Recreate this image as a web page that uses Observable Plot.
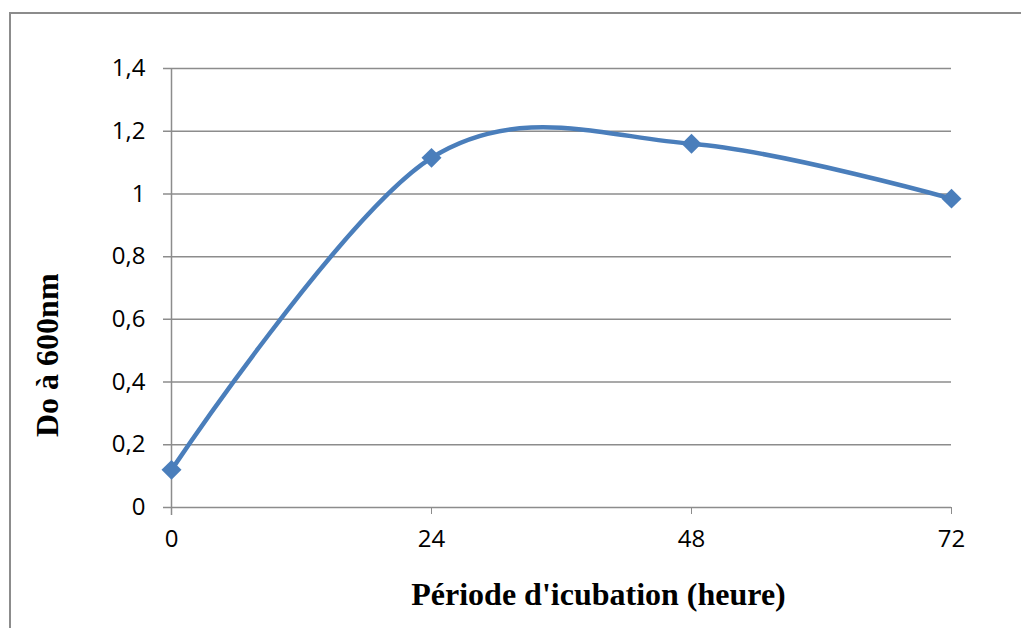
<!DOCTYPE html>
<html>
<head>
<meta charset="utf-8">
<script src="https://cdn.jsdelivr.net/npm/d3@7"></script>
<script src="https://cdn.jsdelivr.net/npm/@observablehq/plot@0.6"></script>
<style>
  html, body { margin: 0; padding: 0; background: #fff; overflow: hidden; }
  #chart { position: relative; width: 1021px; height: 628px; }
  #border { position: absolute; left: 9px; top: 12px; width: 1040px; height: 660px;
            border: 2px solid #8c8c8c; pointer-events: none; }
  #chart svg g[aria-label$="tick label"] { fill: #000; }
</style>
</head>
<body>
<div id="chart"><div id="border"></div></div>
<script>
// Incubation time (hours) and optical density at 600 nm
const hours = [0, 24, 48, 72];
const od600 = [0.12, 1.115, 1.16, 0.985];
const yTicks = [0, 0.2, 0.4, 0.6, 0.8, 1, 1.2, 1.4];
const xTicks = [0, 24, 48, 72];
const yTitle = "Do à 600nm";
const xTitle = "Période d'icubation (heure)";

const data = hours.map((h, i) => ({h, od: od600[i]}));
const grid = "#8c8c8c";
const blue = "#4a7ebb";
const comma = d => String(+d.toFixed(1)).replace(".", ",");

const chart = Plot.plot({
  width: 1021,
  height: 628,
  marginLeft: 171,
  marginRight: 70,
  marginTop: 68,
  marginBottom: 121,
  style: {color: grid, fontFamily: "'Open Sans', sans-serif", fontSize: "24px", background: "transparent"},
  x: {domain: [0, 72], ticks: xTicks, tickSize: 7, tickPadding: 15, label: null},
  y: {domain: [0, 1.4], ticks: yTicks, tickSize: 0, tickPadding: 26, tickFormat: comma, label: null},
  marks: [
    Plot.ruleY(yTicks, {stroke: grid, strokeWidth: 1.5, insetLeft: -8}),
    Plot.ruleX([0], {stroke: grid, strokeWidth: 1.5, insetBottom: -8}),
    Plot.line(data, {x: "h", y: "od", curve: "cardinal", stroke: blue, strokeWidth: 4.5}),
    Plot.dot(data, {x: "h", y: "od", symbol: "diamond2", r: 9, fill: blue, stroke: "none"}),
    Plot.text([yTitle], {frameAnchor: "left", dx: -124, dy: 149, rotate: -90,
      fontSize: 32, fontWeight: "bold", fontFamily: "'Liberation Serif', serif", fill: "#000"}),
    Plot.text([xTitle], {frameAnchor: "bottom", dx: 37, dy: 97,
      fontSize: 32, fontWeight: "bold", fontFamily: "'Liberation Serif', serif", fill: "#000"})
  ]
});
document.getElementById("chart").prepend(chart);
</script>
</body>
</html>
